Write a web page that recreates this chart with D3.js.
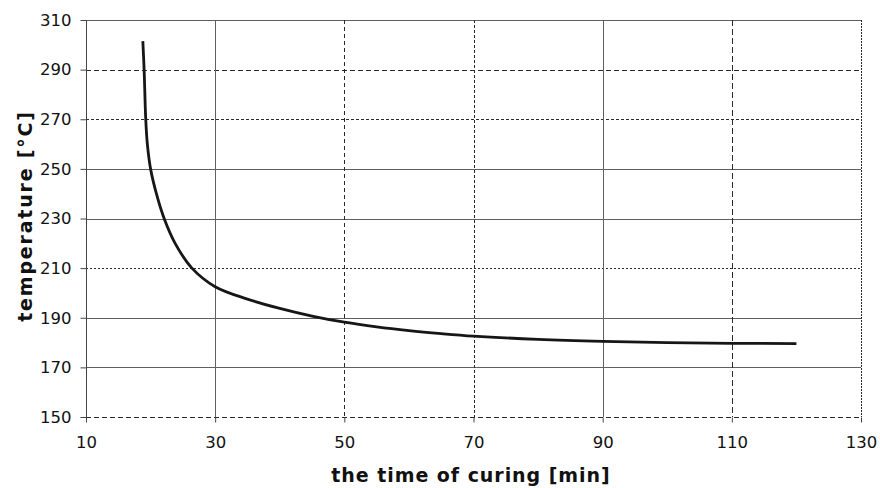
<!DOCTYPE html>
<html>
<head>
<meta charset="utf-8">
<script src="https://cdn.jsdelivr.net/npm/d3@7/dist/d3.min.js"></script>
<style>
  html, body { margin: 0; padding: 0; background: #ffffff; }
  svg { display: block; }
</style>
</head>
<body>
<svg id="chart" width="880" height="488"></svg>
<script>
// ---- data ----
const curingTime = [18.8, 19.0, 19.25, 19.5, 20.0, 20.9, 22.1, 23.8, 26.4, 30, 35, 40, 45, 50, 55, 60, 65, 70, 80, 90, 100, 110, 120];
const temperature = [301.5, 290, 270, 260, 250, 240, 230, 220, 210, 202.5, 197.5, 193.8, 190.7, 188.2, 186.3, 184.8, 183.6, 182.6, 181.3, 180.5, 180.0, 179.7, 179.6];

const xTicks = [10, 30, 50, 70, 90, 110, 130];
const yTicks = [150, 170, 190, 210, 230, 250, 270, 290, 310];

const xTitle = "the time of curing [min]";
const yTitle = "temperature [°C]";

// ---- grid line styles (scan-like mix of solid / dashed) ----
const xGridDash = {10: null, 30: null, 50: "4,3", 70: "3,2", 90: null, 110: "6,3", 130: "2,1"};
const yGridDash = {150: "5,3", 170: null, 190: null, 210: "2,2", 230: null, 250: null, 270: "3,2", 290: "5,3", 310: null};

const svg = d3.select("#chart");
const mLeft = 86, mRight = 861, mTop = 20, mBottom = 417;

const x = d3.scaleLinear().domain([10, 130]).range([mLeft, mRight]);
const y = d3.scaleLinear().domain([150, 310]).range([mBottom, mTop]);

// grid lines
const g = svg.append("g");
g.selectAll("line.hgrid").data(yTicks).join("line")
  .attr("class", "hgrid")
  .attr("x1", mLeft).attr("x2", mRight)
  .attr("y1", d => Math.round(y(d)) + 0.5).attr("y2", d => Math.round(y(d)) + 0.5)
  .attr("stroke", d => yGridDash[d] ? "#2a2a2a" : "#606060")
  .attr("stroke-width", 1)
  .attr("stroke-dasharray", d => yGridDash[d]);

g.selectAll("line.vgrid").data(xTicks).join("line")
  .attr("class", "vgrid")
  .attr("y1", mTop).attr("y2", mBottom)
  .attr("x1", d => Math.round(x(d)) + 0.5).attr("x2", d => Math.round(x(d)) + 0.5)
  .attr("stroke", d => xGridDash[d] ? "#2a2a2a" : "#606060")
  .attr("stroke-width", 1)
  .attr("stroke-dasharray", d => xGridDash[d]);

// axes
const yAxis = d3.axisLeft(y).tickValues(yTicks).tickSize(6).tickPadding(9).tickFormat(d3.format("d"));
const xAxis = d3.axisBottom(x).tickValues(xTicks).tickSize(5).tickPadding(14).tickFormat(d3.format("d"));

const ya = svg.append("g").attr("transform", `translate(${mLeft + 0.5},0)`).call(yAxis);
const xa = svg.append("g").attr("transform", `translate(0,${mBottom + 0.5})`).call(xAxis);

[ya, xa].forEach(a => {
  a.select(".domain").remove();
  a.selectAll(".tick line").attr("stroke", "#444");
  a.selectAll("text")
    .attr("fill", "#111")
    .style("font-family", "'DejaVu Sans', sans-serif")
    .style("font-size", "16.5px");
});
// y axis line
svg.append("line")
  .attr("x1", mLeft + 0.5).attr("x2", mLeft + 0.5)
  .attr("y1", mTop).attr("y2", mBottom + 5)
  .attr("stroke", "#444");

// curve
const pts = curingTime.map((t, i) => [t, temperature[i]]);
const line = d3.line().x(d => x(d[0])).y(d => y(d[1])).curve(d3.curveCatmullRom.alpha(0.5));
svg.append("path")
  .datum(pts)
  .attr("d", line)
  .attr("fill", "none")
  .attr("stroke", "#161616")
  .attr("stroke-width", 2.8)
  .attr("stroke-linejoin", "round")
  .attr("stroke-linecap", "butt");

// titles
svg.append("text")
  .attr("x", 471)
  .attr("y", 482)
  .attr("text-anchor", "middle")
  .style("font-family", "'DejaVu Sans', sans-serif")
  .style("font-weight", "bold")
  .style("font-size", "19px")
  .style("letter-spacing", "0.95px")
  .attr("fill", "#111")
  .text(xTitle);

svg.append("text")
  .attr("transform", `translate(32,216) rotate(-90)`)
  .attr("text-anchor", "middle")
  .style("font-family", "'DejaVu Sans', sans-serif")
  .style("font-weight", "bold")
  .style("font-size", "19px")
  .style("letter-spacing", "1.8px")
  .attr("fill", "#111")
  .text(yTitle);
</script>
</body>
</html>
